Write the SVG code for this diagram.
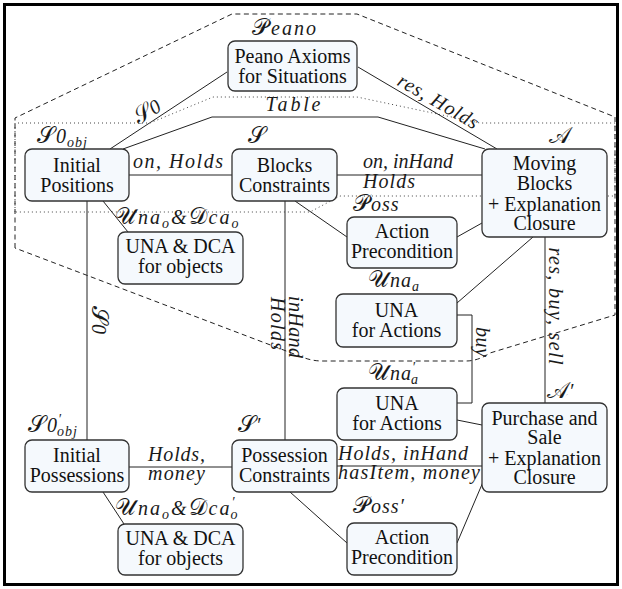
<svg xmlns="http://www.w3.org/2000/svg" width="622" height="589" viewBox="0 0 622 589">
  <style>
    .box { fill: #f5f9fd; stroke: #333; stroke-width: 1.3; }
    .t { font-family: "Liberation Serif", serif; font-size: 20px; text-anchor: middle; fill: #111; }
    .m { font-family: "Liberation Serif", serif; font-style: italic; font-size: 20px; fill: #1a1a1a; }
    .n { letter-spacing: 1px; }
    .w { letter-spacing: 2px; }
    .cal { font-family: "DejaVu Serif", "DejaVu Sans", serif; font-style: normal; font-size: 23px; }
    .sub { font-size: 14px; }
    .edge { fill: none; stroke: #222; stroke-width: 1; }
    .dash { fill: none; stroke: #222; stroke-width: 1; stroke-dasharray: 5 3.5; }
    .dot { fill: none; stroke: #444; stroke-width: 1; stroke-dasharray: 1 3; }
  </style>

  <!-- outer frame -->
  <rect x="4.5" y="4.5" width="613" height="580" fill="#fff" stroke="#000" stroke-width="3"/>

  <!-- grouping regions -->
  <g id="regions">
    <path class="dash" d="M15,248 V118 L232,14 H357 L615,117 V315 L490,353 Q478,361 466,361 H322 Q312,361 302,357 Z"/>
  </g>

  <!-- connectors -->
  <g id="connectors">
    <path class="edge" d="M227,72 L110,149"/>
    <path class="edge" d="M358,67 L497,149"/>
    <path class="edge" d="M123,149 L212,117 H378 L485,149"/>
    <path class="edge" d="M129,175 H232"/>
    <path class="edge" d="M337,175 H482"/>
    <path class="edge" d="M295,201 L347,237"/>
    <path class="edge" d="M482,223 L457,237"/>
    <path class="edge" d="M103,201 L128,232"/>
    <path class="edge" d="M87,201 V440"/>
    <path class="edge" d="M285,201 V440"/>
    <path class="edge" d="M533,237 L457,303"/>
    <path class="edge" d="M457,315 H472 V403 H457"/>
    <path class="edge" d="M545,237 V403"/>
    <path class="edge" d="M457,420 L482,425"/>
    <path class="edge" d="M129,467 H232"/>
    <path class="edge" d="M337,466 H482"/>
    <path class="edge" d="M103,492 L124,524"/>
    <path class="edge" d="M290,492 L347,543"/>
    <path class="edge" d="M483,482 L457,543"/>

    <!-- connector labels -->
    <text class="m" transform="translate(153,120.7) rotate(-33.3)" text-anchor="middle" y="-4"><tspan class="cal" font-size="21">𝒮</tspan>0</text>
    <text class="m" transform="translate(433,110.5) rotate(30.2)" text-anchor="middle" y="-4" textLength="90" lengthAdjust="spacing">res, Holds</text>
    <text class="m" x="293" y="111" text-anchor="middle" textLength="55" lengthAdjust="spacing">Table</text>
    <text class="m" x="178" y="168" text-anchor="middle" textLength="90" lengthAdjust="spacing">on, Holds</text>
    <text class="m" x="363" y="168" textLength="90" lengthAdjust="spacing">on, inHand</text>
    <text class="m" x="363" y="188" textLength="52" lengthAdjust="spacing">Holds</text>
    <text class="m" transform="translate(87,320) rotate(90)" text-anchor="middle" y="-5"><tspan class="cal" font-size="21">𝒮</tspan>0</text>
    <text class="m" transform="translate(285,327) rotate(90)" text-anchor="middle" y="-4" textLength="62" lengthAdjust="spacing">inHand</text>
    <text class="m" transform="translate(285,323.5) rotate(90)" text-anchor="middle" y="14" textLength="53" lengthAdjust="spacing">Holds</text>
    <text class="m" transform="translate(545,306) rotate(90)" text-anchor="middle" y="-4" textLength="117" lengthAdjust="spacing">res, buy, sell</text>
    <text class="m" transform="translate(472,342) rotate(90)" text-anchor="middle" y="-4" textLength="30" lengthAdjust="spacing">buy</text>
    <text class="m" x="176.5" y="461" text-anchor="middle" textLength="57" lengthAdjust="spacing">Holds,</text>
    <text class="m" x="176.5" y="480" text-anchor="middle" textLength="57" lengthAdjust="spacing">money</text>
    <text class="m" x="338" y="460" textLength="130" lengthAdjust="spacing">Holds, inHand</text>
    <text class="m" x="338" y="479" textLength="142" lengthAdjust="spacing">hasItem, money</text>
  </g>

  <!-- dotted region drawn over the boxes it crosses -->
  <g id="inner-region">
    <path class="dot" d="M15,212 V123 H150 L213,97 H357 L480,123 H615 V196 H340 L310,212 Z"/>
  </g>

  <g id="peano">
    <rect class="box" x="228" y="41" width="129" height="50" rx="7"/>
    <text class="t" x="292.5" y="63">Peano Axioms</text>
    <text class="t" x="292.5" y="83">for Situations</text>
    <text class="m w" x="252" y="35"><tspan class="cal">𝒫</tspan>eano</text>
  </g>

  <g id="initial-positions">
    <rect class="box" x="25" y="149" width="104" height="52" rx="7"/>
    <text class="t" x="77" y="172">Initial</text>
    <text class="t" x="77" y="192">Positions</text>
    <text class="m n" x="37" y="143"><tspan class="cal">𝒮</tspan>0<tspan class="sub" dy="4">obj</tspan></text>
  </g>

  <g id="blocks-constraints">
    <rect class="box" x="232" y="149" width="105" height="52" rx="7"/>
    <text class="t" x="284.5" y="172">Blocks</text>
    <text class="t" x="284.5" y="192">Constraints</text>
    <text class="m" x="248" y="143"><tspan class="cal">𝒮</tspan></text>
  </g>

  <g id="moving-blocks">
    <rect class="box" x="482" y="149" width="125" height="88" rx="7"/>
    <text class="t" x="544.5" y="170">Moving</text>
    <text class="t" x="544.5" y="190">Blocks</text>
    <text class="t" x="544.5" y="211">+ Explanation</text>
    <text class="t" x="544.5" y="230">Closure</text>
    <text class="m" x="549" y="143"><tspan class="cal">𝒜</tspan></text>
  </g>

  <g id="poss">
    <rect class="box" x="347" y="217" width="110" height="51" rx="7"/>
    <text class="t" x="402" y="238">Action</text>
    <text class="t" x="402" y="258">Precondition</text>
    <text class="m n" x="353" y="211"><tspan class="cal">𝒫</tspan>oss</text>
  </g>

  <g id="una-dca-objects">
    <rect class="box" x="118" y="232" width="125" height="52" rx="7"/>
    <text class="t" x="180.5" y="253">UNA &amp; DCA</text>
    <text class="t" x="180.5" y="273">for objects</text>
    <text class="m w" x="115" y="224"><tspan class="cal">𝒰</tspan>na<tspan class="sub" dy="4">o</tspan><tspan dy="-4">&amp;</tspan><tspan class="cal">𝒟</tspan>ca<tspan class="sub" dy="4">o</tspan></text>
  </g>

  <g id="una-actions">
    <rect class="box" x="336" y="294" width="121" height="53" rx="7"/>
    <text class="t" x="396.5" y="317">UNA</text>
    <text class="t" x="396.5" y="337">for Actions</text>
    <text class="m n" x="368" y="287"><tspan class="cal">𝒰</tspan>na<tspan class="sub" dy="4">a</tspan></text>
  </g>

  <g id="una-actions-prime">
    <rect class="box" x="337" y="388" width="120" height="52" rx="7"/>
    <text class="t" x="397" y="410">UNA</text>
    <text class="t" x="397" y="430">for Actions</text>
    <text class="m n" x="368" y="380"><tspan class="cal">𝒰</tspan>na<tspan class="sub" dy="-8">′</tspan><tspan class="sub" dx="-5" dy="12">a</tspan></text>
  </g>

  <g id="purchase-sale">
    <rect class="box" x="482" y="403" width="125" height="89" rx="7"/>
    <text class="t" x="544.5" y="425">Purchase and</text>
    <text class="t" x="544.5" y="444">Sale</text>
    <text class="t" x="544.5" y="465">+ Explanation</text>
    <text class="t" x="544.5" y="484">Closure</text>
    <text class="m" x="547" y="398"><tspan class="cal">𝒜</tspan>′</text>
  </g>

  <g id="initial-possessions">
    <rect class="box" x="25" y="440" width="104" height="52" rx="7"/>
    <text class="t" x="77" y="462">Initial</text>
    <text class="t" x="77" y="482">Possessions</text>
    <text class="m n" x="28" y="432"><tspan class="cal">𝒮</tspan>0<tspan class="sub" dy="-8">′</tspan><tspan class="sub" dx="-5" dy="12">obj</tspan></text>
  </g>

  <g id="possession-constraints">
    <rect class="box" x="232" y="440" width="105" height="52" rx="7"/>
    <text class="t" x="284.5" y="462">Possession</text>
    <text class="t" x="284.5" y="482">Constraints</text>
    <text class="m" x="238" y="432"><tspan class="cal">𝒮</tspan>′</text>
  </g>

  <g id="una-dca-objects-prime">
    <rect class="box" x="118" y="524" width="125" height="51" rx="7"/>
    <text class="t" x="180.5" y="545">UNA &amp; DCA</text>
    <text class="t" x="180.5" y="565">for objects</text>
    <text class="m w" x="115" y="515"><tspan class="cal">𝒰</tspan>na<tspan class="sub" dy="4">o</tspan><tspan dy="-4">&amp;</tspan><tspan class="cal">𝒟</tspan>ca<tspan class="sub" dy="-8">′</tspan><tspan class="sub" dx="-6" dy="12">o</tspan></text>
  </g>

  <g id="poss-prime">
    <rect class="box" x="347" y="523" width="110" height="52" rx="7"/>
    <text class="t" x="402" y="544">Action</text>
    <text class="t" x="402" y="564">Precondition</text>
    <text class="m n" x="353" y="513"><tspan class="cal">𝒫</tspan>oss′</text>
  </g>
</svg>
